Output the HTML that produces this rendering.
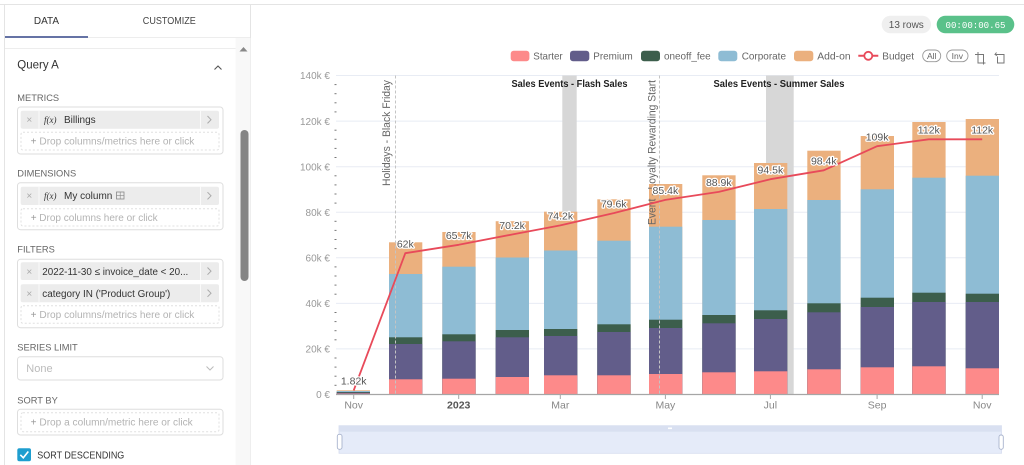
<!DOCTYPE html>
<html><head><meta charset="utf-8"><style>
html,body{margin:0;padding:0;background:#fff;}
svg{display:block;font-family:"Liberation Sans",Arial,sans-serif;}
</style></head><body>
<svg width="1024" height="465" viewBox="0 0 1024 465" xmlns="http://www.w3.org/2000/svg">
<rect x="0" y="0" width="1024" height="465" fill="#fff"/>
<!-- frame lines -->
<line x1="0" y1="4.5" x2="1024" y2="4.5" stroke="#e4e4e4"/>
<line x1="4.5" y1="4.5" x2="4.5" y2="465" stroke="#e4e4e4"/>
<line x1="250.5" y1="4.5" x2="250.5" y2="465" stroke="#e4e4e4"/>

<!-- LEFT PANEL -->
<text x="46.5" y="23.8" font-size="10" fill="#333" text-anchor="middle">DATA</text>
<text x="169.3" y="23.8" font-size="10" fill="#444" text-anchor="middle" textLength="53" lengthAdjust="spacingAndGlyphs">CUSTOMIZE</text>
<line x1="88" y1="37.5" x2="250" y2="37.5" stroke="#ededed"/>
<rect x="5" y="36" width="83" height="2" fill="#6573a5"/>
<rect x="235.5" y="38" width="15" height="427" fill="#f8f8f8"/>
<line x1="5" y1="48.5" x2="235.5" y2="48.5" stroke="#ededed"/>
<polygon points="239.5,51.5 247.5,51.5 243.5,47" fill="#888"/>
<rect x="240.5" y="130" width="8" height="151" rx="4" fill="#858585"/>

<text x="17.3" y="68.3" font-size="11.5" fill="#333">Query A</text>
<polyline points="214.5,69.5 218,66 221.5,69.5" fill="none" stroke="#555" stroke-width="1.1"/>

<!-- METRICS -->
<text x="17.3" y="101" font-size="9.3" fill="#666">METRICS</text>
<rect x="17.5" y="107" width="205.5" height="47" rx="3" fill="#fff" stroke="#dedede"/>
<rect x="20.7" y="110.7" width="198.3" height="18" rx="2" fill="#ececec"/>
<text x="29.3" y="123" font-size="10" fill="#aaa" text-anchor="middle">×</text>
<line x1="39" y1="110.7" x2="39" y2="128.7" stroke="#fafafa"/>
<text x="44" y="123" font-size="9" font-style="italic" font-family="Liberation Serif,serif" fill="#333">f(x)</text>
<text x="64" y="123" font-size="10" fill="#333">Billings</text>
<line x1="200.5" y1="110.7" x2="200.5" y2="128.7" stroke="#fafafa"/>
<polyline points="207.5,116 211,119.7 207.5,123.4" fill="none" stroke="#aaa"/>
<rect x="21" y="132.3" width="198" height="17.7" rx="2" fill="none" stroke="#e0e0e0" stroke-dasharray="2,2"/>
<text x="30.7" y="144.6" font-size="10" fill="#b3b3b3" textLength="163.6" lengthAdjust="spacingAndGlyphs"><tspan fill="#999">+</tspan> Drop columns/metrics here or click</text>

<!-- DIMENSIONS -->
<text x="17.3" y="176.7" font-size="9.3" fill="#666">DIMENSIONS</text>
<rect x="17.5" y="182.7" width="205.5" height="47" rx="3" fill="#fff" stroke="#dedede"/>
<rect x="20.7" y="186.7" width="198.3" height="18.3" rx="2" fill="#ececec"/>
<text x="29.3" y="199.2" font-size="10" fill="#aaa" text-anchor="middle">×</text>
<line x1="39" y1="186.7" x2="39" y2="205" stroke="#fafafa"/>
<text x="44" y="199.2" font-size="9" font-style="italic" font-family="Liberation Serif,serif" fill="#333">f(x)</text>
<text x="64" y="199.2" font-size="10" fill="#333">My column</text>
<rect x="116.5" y="192" width="7.5" height="7" fill="none" stroke="#888" stroke-width="0.8"/>
<line x1="116.5" y1="195.5" x2="124" y2="195.5" stroke="#888" stroke-width="0.6"/>
<line x1="120.2" y1="192" x2="120.2" y2="199" stroke="#888" stroke-width="0.6"/>
<line x1="200.5" y1="186.7" x2="200.5" y2="205" stroke="#fafafa"/>
<polyline points="207.5,192.2 211,195.8 207.5,199.4" fill="none" stroke="#aaa"/>
<rect x="21" y="208.7" width="198" height="17.3" rx="2" fill="none" stroke="#e0e0e0" stroke-dasharray="2,2"/>
<text x="30.7" y="221" font-size="10" fill="#b3b3b3"><tspan fill="#999">+</tspan> Drop columns here or click</text>

<!-- FILTERS -->
<text x="17.3" y="252.7" font-size="9.3" fill="#666">FILTERS</text>
<rect x="17.5" y="259.3" width="205.5" height="68.4" rx="3" fill="#fff" stroke="#dedede"/>
<rect x="20.7" y="262.3" width="198.3" height="17.7" rx="2" fill="#ececec"/>
<text x="29.3" y="275" font-size="10" fill="#aaa" text-anchor="middle">×</text>
<line x1="39" y1="262.3" x2="39" y2="280" stroke="#fafafa"/>
<text x="42.3" y="275" font-size="10" fill="#333" textLength="146" lengthAdjust="spacingAndGlyphs">2022-11-30 ≤ invoice_date &lt; 20...</text>
<line x1="200.5" y1="262.3" x2="200.5" y2="280" stroke="#fafafa"/>
<polyline points="207.5,267.5 211,271.1 207.5,274.7" fill="none" stroke="#aaa"/>
<rect x="20.7" y="284.3" width="198.3" height="18" rx="2" fill="#ececec"/>
<text x="29.3" y="297.2" font-size="10" fill="#aaa" text-anchor="middle">×</text>
<line x1="39" y1="284.3" x2="39" y2="302.3" stroke="#fafafa"/>
<text x="42.3" y="297.2" font-size="10" fill="#333" textLength="128" lengthAdjust="spacingAndGlyphs">category IN ('Product Group')</text>
<line x1="200.5" y1="284.3" x2="200.5" y2="302.3" stroke="#fafafa"/>
<polyline points="207.5,289.6 211,293.2 207.5,296.8" fill="none" stroke="#aaa"/>
<rect x="21" y="305.7" width="198" height="17.6" rx="2" fill="none" stroke="#e0e0e0" stroke-dasharray="2,2"/>
<text x="30.7" y="318.2" font-size="10" fill="#b3b3b3" textLength="163.6" lengthAdjust="spacingAndGlyphs"><tspan fill="#999">+</tspan> Drop columns/metrics here or click</text>

<!-- SERIES LIMIT -->
<text x="17.3" y="350.7" font-size="9.3" fill="#666">SERIES LIMIT</text>
<rect x="17.5" y="356.7" width="205.5" height="23.3" rx="3" fill="#fff" stroke="#dedede"/>
<text x="26.3" y="372" font-size="11" fill="#bbb">None</text>
<polyline points="206.5,366.5 210,370 213.5,366.5" fill="none" stroke="#bbb"/>

<!-- SORT BY -->
<text x="17.3" y="403.3" font-size="9.3" fill="#666">SORT BY</text>
<rect x="17.5" y="409.3" width="205.5" height="25.7" rx="3" fill="#fff" stroke="#dedede"/>
<rect x="21" y="412.7" width="198" height="19" rx="2" fill="none" stroke="#e0e0e0" stroke-dasharray="2,2"/>
<text x="30.7" y="425.7" font-size="10" fill="#b3b3b3" textLength="162" lengthAdjust="spacingAndGlyphs"><tspan fill="#999">+</tspan> Drop a column/metric here or click</text>

<rect x="17.3" y="448.3" width="13.7" height="13" rx="2" fill="#1e9ecf"/>
<polyline points="20.3,454.8 23.3,457.8 28.3,451.5" fill="none" stroke="#fff" stroke-width="1.6"/>
<text x="37.3" y="458.5" font-size="10" fill="#333" textLength="87" lengthAdjust="spacingAndGlyphs">SORT DESCENDING</text>

<!-- TOP PILLS -->
<rect x="881.7" y="15.7" width="49.3" height="17.6" rx="8.8" fill="#efefef"/>
<text x="906.3" y="28" font-size="10" fill="#555" text-anchor="middle">13 rows</text>
<rect x="936.7" y="15.7" width="77.6" height="17.6" rx="8.8" fill="#5ac18a"/>
<text x="975.5" y="28" font-size="9" fill="#fff" text-anchor="middle" font-family="Liberation Mono,monospace" textLength="60" lengthAdjust="spacingAndGlyphs">00:00:00.65</text>

<!-- LEGEND -->
<g font-size="10.5" fill="#666">
<rect x="510.7" y="50.7" width="18.7" height="10.5" rx="3" fill="#fd8a8a"/>
<text x="533.3" y="59.5" textLength="29.4" lengthAdjust="spacingAndGlyphs">Starter</text>
<rect x="570" y="50.7" width="19.3" height="10.5" rx="3" fill="#625d8a"/>
<text x="593.3" y="59.5" textLength="39.4" lengthAdjust="spacingAndGlyphs">Premium</text>
<rect x="641" y="50.7" width="19" height="10.5" rx="3" fill="#3c5e4c"/>
<text x="664" y="59.5" textLength="46.7" lengthAdjust="spacingAndGlyphs">oneoff_fee</text>
<rect x="718.3" y="50.7" width="19" height="10.5" rx="3" fill="#8ebcd4"/>
<text x="741.7" y="59.5" textLength="44.3" lengthAdjust="spacingAndGlyphs">Corporate</text>
<rect x="794" y="50.7" width="19.3" height="10.5" rx="3" fill="#ebb07e"/>
<text x="817.3" y="59.5" textLength="33.3" lengthAdjust="spacingAndGlyphs">Add-on</text>
<line x1="858.3" y1="55.8" x2="878.3" y2="55.8" stroke="#e84a5a" stroke-width="2"/>
<circle cx="868.3" cy="55.8" r="4" fill="#fff" stroke="#e84a5a" stroke-width="1.8"/>
<text x="882.3" y="59.5" textLength="31.7" lengthAdjust="spacingAndGlyphs">Budget</text>
</g>
<rect x="922.7" y="50" width="18" height="11.7" rx="5.8" fill="#fff" stroke="#999" stroke-width="0.9"/>
<text x="931.7" y="59" font-size="8.5" fill="#666" text-anchor="middle">All</text>
<rect x="946.7" y="50" width="21.3" height="11.7" rx="5.8" fill="#fff" stroke="#999" stroke-width="0.9"/>
<text x="957.3" y="59" font-size="8.5" fill="#666" text-anchor="middle">Inv</text>
<g fill="none" stroke="#777" stroke-width="1">
<path d="M975,54.5 H983.5 V63 H978 V52"/>
<path d="M983.5,63 V64.5 M978,63 H985.5"/>
<path d="M996.5,52.5 L995,54.5 L997,55.5 M995,54.5 H1004 V63 H997.5 V56.5"/>
</g>

<!-- CHART: gridlines -->
<g stroke="#e8ecf4" stroke-width="1">
<line x1="336" y1="75.5" x2="999" y2="75.5"/>
<line x1="336" y1="121.1" x2="999" y2="121.1"/>
<line x1="336" y1="166.7" x2="999" y2="166.7"/>
<line x1="336" y1="212.2" x2="999" y2="212.2"/>
<line x1="336" y1="257.8" x2="999" y2="257.8"/>
<line x1="336" y1="303.4" x2="999" y2="303.4"/>
<line x1="336" y1="348.9" x2="999" y2="348.9"/>
</g>
<!-- y labels -->
<g font-size="10" fill="#999" text-anchor="end">
<text x="330" y="79.2">140k €</text>
<text x="330" y="124.8">120k €</text>
<text x="330" y="170.4">100k €</text>
<text x="330" y="215.9">80k €</text>
<text x="330" y="261.5">60k €</text>
<text x="330" y="307.1">40k €</text>
<text x="330" y="352.6">20k €</text>
<text x="330" y="398.2">0 €</text>
</g>
<!-- minor ticks -->
<g fill="#777">
<rect x="334.5" y="84.1" width="2" height="1"/><rect x="334.5" y="93.2" width="2" height="1"/><rect x="334.5" y="102.3" width="2" height="1"/><rect x="334.5" y="111.4" width="2" height="1"/>
<rect x="334.5" y="129.7" width="2" height="1"/><rect x="334.5" y="138.8" width="2" height="1"/><rect x="334.5" y="147.9" width="2" height="1"/><rect x="334.5" y="157" width="2" height="1"/>
<rect x="334.5" y="175.3" width="2" height="1"/><rect x="334.5" y="184.4" width="2" height="1"/><rect x="334.5" y="193.5" width="2" height="1"/><rect x="334.5" y="202.6" width="2" height="1"/>
<rect x="334.5" y="220.8" width="2" height="1"/><rect x="334.5" y="229.9" width="2" height="1"/><rect x="334.5" y="239" width="2" height="1"/><rect x="334.5" y="248.1" width="2" height="1"/>
<rect x="334.5" y="266.4" width="2" height="1"/><rect x="334.5" y="275.5" width="2" height="1"/><rect x="334.5" y="284.6" width="2" height="1"/><rect x="334.5" y="293.7" width="2" height="1"/>
<rect x="334.5" y="312" width="2" height="1"/><rect x="334.5" y="321.1" width="2" height="1"/><rect x="334.5" y="330.2" width="2" height="1"/><rect x="334.5" y="339.3" width="2" height="1"/>
<rect x="334.5" y="357.5" width="2" height="1"/><rect x="334.5" y="366.6" width="2" height="1"/><rect x="334.5" y="375.7" width="2" height="1"/><rect x="334.5" y="384.8" width="2" height="1"/>
</g>

<!-- interval bands -->
<rect x="562.3" y="75.5" width="14.4" height="319" fill="#d7d7d7"/>
<rect x="766" y="75.5" width="27.7" height="319" fill="#d7d7d7"/>

<!-- BARS -->
<g>
<!-- Nov 22 -->
<rect x="336.7" y="390.3" width="33.3" height="4.2" fill="#ebb07e"/>
<rect x="336.7" y="391" width="33.3" height="3.5" fill="#8ebcd4"/>
<rect x="336.7" y="392" width="33.3" height="2.5" fill="#3c5e4c"/>
<rect x="336.7" y="392.7" width="33.3" height="1.8" fill="#625d8a"/>
<rect x="336.7" y="393.5" width="33.3" height="1" fill="#fd8a8a"/>
<!-- Dec -->
<rect x="389" y="242.3" width="33.3" height="152.2" fill="#ebb07e"/>
<rect x="389" y="274" width="33.3" height="120.5" fill="#8ebcd4"/>
<rect x="389" y="337.3" width="33.3" height="57.2" fill="#3c5e4c"/>
<rect x="389" y="344" width="33.3" height="50.5" fill="#625d8a"/>
<rect x="389" y="379.3" width="33.3" height="15.2" fill="#fd8a8a"/>
<!-- Jan -->
<rect x="442.3" y="232" width="33.3" height="162.5" fill="#ebb07e"/>
<rect x="442.3" y="266.7" width="33.3" height="127.8" fill="#8ebcd4"/>
<rect x="442.3" y="334.3" width="33.3" height="60.2" fill="#3c5e4c"/>
<rect x="442.3" y="341.3" width="33.3" height="53.2" fill="#625d8a"/>
<rect x="442.3" y="378.7" width="33.3" height="15.8" fill="#fd8a8a"/>
<!-- Feb -->
<rect x="495.7" y="221.2" width="33.3" height="173.3" fill="#ebb07e"/>
<rect x="495.7" y="257.5" width="33.3" height="137" fill="#8ebcd4"/>
<rect x="495.7" y="330" width="33.3" height="64.5" fill="#3c5e4c"/>
<rect x="495.7" y="337.3" width="33.3" height="57.2" fill="#625d8a"/>
<rect x="495.7" y="377" width="33.3" height="17.5" fill="#fd8a8a"/>
<!-- Mar -->
<rect x="544" y="211.7" width="33.3" height="182.8" fill="#ebb07e"/>
<rect x="544" y="250.5" width="33.3" height="144" fill="#8ebcd4"/>
<rect x="544" y="329" width="33.3" height="65.5" fill="#3c5e4c"/>
<rect x="544" y="336" width="33.3" height="58.5" fill="#625d8a"/>
<rect x="544" y="375.3" width="33.3" height="19.2" fill="#fd8a8a"/>
<!-- Apr -->
<rect x="597.3" y="199.3" width="33.3" height="195.2" fill="#ebb07e"/>
<rect x="597.3" y="240.7" width="33.3" height="153.8" fill="#8ebcd4"/>
<rect x="597.3" y="324.3" width="33.3" height="70.2" fill="#3c5e4c"/>
<rect x="597.3" y="332" width="33.3" height="62.5" fill="#625d8a"/>
<rect x="597.3" y="375.3" width="33.3" height="19.2" fill="#fd8a8a"/>
<!-- May -->
<rect x="649" y="184" width="33.3" height="210.5" fill="#ebb07e"/>
<rect x="649" y="226.7" width="33.3" height="167.8" fill="#8ebcd4"/>
<rect x="649" y="319.7" width="33.3" height="74.8" fill="#3c5e4c"/>
<rect x="649" y="328" width="33.3" height="66.5" fill="#625d8a"/>
<rect x="649" y="374" width="33.3" height="20.5" fill="#fd8a8a"/>
<!-- Jun -->
<rect x="702.3" y="175.3" width="33.3" height="219.2" fill="#ebb07e"/>
<rect x="702.3" y="220" width="33.3" height="174.5" fill="#8ebcd4"/>
<rect x="702.3" y="315" width="33.3" height="79.5" fill="#3c5e4c"/>
<rect x="702.3" y="323.3" width="33.3" height="71.2" fill="#625d8a"/>
<rect x="702.3" y="372.3" width="33.3" height="22.2" fill="#fd8a8a"/>
<!-- Jul -->
<rect x="754" y="163" width="33.3" height="231.5" fill="#ebb07e"/>
<rect x="754" y="209" width="33.3" height="185.5" fill="#8ebcd4"/>
<rect x="754" y="310.3" width="33.3" height="84.2" fill="#3c5e4c"/>
<rect x="754" y="319" width="33.3" height="75.5" fill="#625d8a"/>
<rect x="754" y="371.3" width="33.3" height="23.2" fill="#fd8a8a"/>
<!-- Aug -->
<rect x="807.3" y="150.7" width="33.3" height="243.8" fill="#ebb07e"/>
<rect x="807.3" y="200" width="33.3" height="194.5" fill="#8ebcd4"/>
<rect x="807.3" y="303.3" width="33.3" height="91.2" fill="#3c5e4c"/>
<rect x="807.3" y="312.3" width="33.3" height="82.2" fill="#625d8a"/>
<rect x="807.3" y="369.3" width="33.3" height="25.2" fill="#fd8a8a"/>
<!-- Sep -->
<rect x="860.7" y="136" width="33.3" height="258.5" fill="#ebb07e"/>
<rect x="860.7" y="189.3" width="33.3" height="205.2" fill="#8ebcd4"/>
<rect x="860.7" y="297.7" width="33.3" height="96.8" fill="#3c5e4c"/>
<rect x="860.7" y="307" width="33.3" height="87.5" fill="#625d8a"/>
<rect x="860.7" y="367.3" width="33.3" height="27.2" fill="#fd8a8a"/>
<!-- Oct -->
<rect x="912.3" y="122" width="33.3" height="272.5" fill="#ebb07e"/>
<rect x="912.3" y="177.7" width="33.3" height="216.8" fill="#8ebcd4"/>
<rect x="912.3" y="292.7" width="33.3" height="101.8" fill="#3c5e4c"/>
<rect x="912.3" y="302" width="33.3" height="92.5" fill="#625d8a"/>
<rect x="912.3" y="366.3" width="33.3" height="28.2" fill="#fd8a8a"/>
<!-- Nov 23 -->
<rect x="965.7" y="119" width="33.3" height="275.5" fill="#ebb07e"/>
<rect x="965.7" y="175.7" width="33.3" height="218.8" fill="#8ebcd4"/>
<rect x="965.7" y="293.7" width="33.3" height="100.8" fill="#3c5e4c"/>
<rect x="965.7" y="302" width="33.3" height="92.5" fill="#625d8a"/>
<rect x="965.7" y="368.3" width="33.3" height="26.2" fill="#fd8a8a"/>
</g>

<!-- x axis -->
<line x1="336" y1="394.5" x2="999" y2="394.5" stroke="#a6a6a6" stroke-width="1.2"/>
<g stroke="#a6a6a6">
<line x1="353.7" y1="394.5" x2="353.7" y2="399"/>
<line x1="458.7" y1="394.5" x2="458.7" y2="399"/>
<line x1="560.3" y1="394.5" x2="560.3" y2="399"/>
<line x1="665.4" y1="394.5" x2="665.4" y2="399"/>
<line x1="770.4" y1="394.5" x2="770.4" y2="399"/>
<line x1="877.1" y1="394.5" x2="877.1" y2="399"/>
<line x1="982.2" y1="394.5" x2="982.2" y2="399"/>
</g>
<g font-size="10.5" fill="#888" text-anchor="middle">
<text x="353.7" y="408.5">Nov</text>
<text x="458.7" y="408.5" font-weight="bold" fill="#555">2023</text>
<text x="560.3" y="408.5">Mar</text>
<text x="665.4" y="408.5">May</text>
<text x="770.4" y="408.5">Jul</text>
<text x="877.1" y="408.5">Sep</text>
<text x="982.2" y="408.5">Nov</text>
</g>

<!-- event lines -->
<line x1="395.5" y1="75.5" x2="395.5" y2="394.5" stroke="#c4c4c4" stroke-dasharray="3,2"/>
<line x1="659.5" y1="75.5" x2="659.5" y2="394.5" stroke="#c4c4c4" stroke-dasharray="3,2"/>
<text transform="translate(389.8,80) rotate(-90)" font-size="11" fill="#666" text-anchor="end" textLength="106" lengthAdjust="spacingAndGlyphs">Holidays - Black Friday</text>
<text transform="translate(655.3,80) rotate(-90)" font-size="11" fill="#666" text-anchor="end" textLength="145" lengthAdjust="spacingAndGlyphs">Event - Loyalty Rewarding Start</text>

<!-- band labels -->
<text x="569.5" y="87" font-size="10" font-weight="bold" fill="#222" text-anchor="middle" textLength="116" lengthAdjust="spacingAndGlyphs">Sales Events - Flash Sales</text>
<text x="779" y="87" font-size="10" font-weight="bold" fill="#222" text-anchor="middle" textLength="131" lengthAdjust="spacingAndGlyphs">Sales Events - Summer Sales</text>

<!-- budget line -->
<polyline fill="none" stroke="#e84a5a" stroke-width="1.8" stroke-linejoin="round" points="353.7,390.4 405.3,253.2 458.7,244.8 512.1,234.5 560.3,225.4 613.7,213.1 665.4,199.9 718.8,191.9 770.4,179.2 823.8,170.3 877.1,146.2 928.8,139.3 982.2,139.3"/>

<!-- value labels -->
<g font-size="10.5" fill="#555" text-anchor="middle" stroke="#fff" stroke-width="2.5" paint-order="stroke" stroke-linejoin="round">
<text x="353.7" y="384.7">1.82k</text>
<text x="405.3" y="247.5">62k</text>
<text x="458.7" y="239.1">65.7k</text>
<text x="512.1" y="228.8">70.2k</text>
<text x="560.3" y="219.7">74.2k</text>
<text x="613.7" y="207.4">79.6k</text>
<text x="665.4" y="194.2">85.4k</text>
<text x="718.8" y="186.2">88.9k</text>
<text x="770.4" y="173.5">94.5k</text>
<text x="823.8" y="164.6">98.4k</text>
<text x="877.1" y="140.5">109k</text>
<text x="928.8" y="133.6">112k</text>
<text x="982.2" y="133.6">112k</text>
</g>

<!-- data zoom slider -->
<rect x="339" y="425.7" width="662.5" height="27.6" fill="#e5ebf9" stroke="#d6ddef" stroke-width="0.8"/>
<rect x="339" y="425.7" width="662.5" height="6" fill="#d9e0f1"/>
<rect x="668" y="427.5" width="4" height="1.6" fill="#fff"/>
<rect x="337.3" y="434.3" width="4.7" height="15" rx="2" fill="#fff" stroke="#a9b4cd" stroke-width="0.9"/>
<rect x="999" y="435" width="4.3" height="14.3" rx="2" fill="#fff" stroke="#a9b4cd" stroke-width="0.9"/>
</svg>
</body></html>
